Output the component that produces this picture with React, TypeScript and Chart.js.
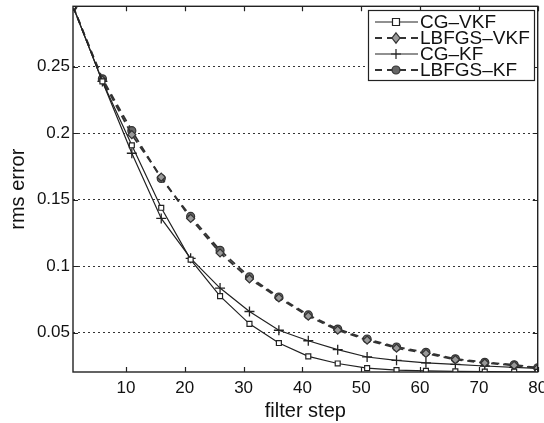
import React, { useEffect, useRef } from "react";
import { Chart, registerables } from "chart.js";
Chart.register(...registerables);

const steps = [1, 6, 11, 16, 21, 26, 31, 36, 41, 46, 51, 56, 61, 66, 71, 76, 80];
const cgVkf = [0.2955, 0.239, 0.191, 0.144, 0.105, 0.0776, 0.0567, 0.0423, 0.0323, 0.0269, 0.0234, 0.0219, 0.0214, 0.021, 0.0208, 0.0207, 0.0206];
const lbfgsVkf = [0.2955, 0.24, 0.199, 0.167, 0.136, 0.110, 0.0905, 0.0762, 0.0625, 0.052, 0.0445, 0.0385, 0.0345, 0.0298, 0.0273, 0.0255, 0.0234];
const cgKf = [0.2955, 0.239, 0.185, 0.136, 0.106, 0.0836, 0.066, 0.0519, 0.044, 0.0373, 0.0318, 0.0293, 0.0274, 0.0262, 0.025, 0.024, 0.0232];
const lbfgsKf = [0.2955, 0.241, 0.202, 0.166, 0.1375, 0.112, 0.092, 0.0769, 0.0634, 0.0528, 0.0453, 0.0393, 0.0353, 0.0304, 0.0278, 0.0259, 0.0237];
const xTicks = [10, 20, 30, 40, 50, 60, 70, 80];
const yTicks = [0.05, 0.1, 0.15, 0.2, 0.25];
const yTickLabels = ["0.05", "0.1", "0.15", "0.2", "0.25"];
const seriesLabels = ["CG\u2013VKF", "LBFGS\u2013VKF", "CG\u2013KF", "LBFGS\u2013KF"];

const FONT = "'Liberation Sans', Arial, sans-serif";

function drawMarker(ctx: any, style: string, x: number, y: number, r: number) {
  ctx.beginPath();
  if (style === "rect") {
    ctx.rect(x - r, y - r, 2 * r, 2 * r);
    ctx.fill(); ctx.stroke();
  } else if (style === "rectRot") {
    ctx.moveTo(x, y - r * 1.3); ctx.lineTo(x + r, y); ctx.lineTo(x, y + r * 1.3); ctx.lineTo(x - r, y); ctx.closePath();
    ctx.fill(); ctx.stroke();
  } else if (style === "cross") {
    ctx.moveTo(x - r, y); ctx.lineTo(x + r, y); ctx.moveTo(x, y - r); ctx.lineTo(x, y + r);
    ctx.stroke();
  } else {
    ctx.arc(x, y, r, 0, Math.PI * 2);
    ctx.fill(); ctx.stroke();
  }
}

const framePlugin = {
  id: "frame",
  afterDatasetsDraw(chart: any) {
    const { ctx, chartArea: a, scales } = chart;
    ctx.save();
    ctx.strokeStyle = "#222";
    ctx.lineWidth = 1.4;
    ctx.strokeRect(a.left, a.top, a.right - a.left, a.bottom - a.top);
    ctx.lineWidth = 1.2;
    const tl = 5;
    xTicks.forEach((v) => {
      const x = Math.round(scales.x.getPixelForValue(v)) + 0.5;
      ctx.beginPath();
      ctx.moveTo(x, a.bottom); ctx.lineTo(x, a.bottom - tl);
      ctx.moveTo(x, a.top); ctx.lineTo(x, a.top + tl);
      ctx.stroke();
    });
    yTicks.forEach((v) => {
      const y = Math.round(scales.y.getPixelForValue(v)) + 0.5;
      ctx.beginPath();
      ctx.moveTo(a.left, y); ctx.lineTo(a.left + tl, y);
      ctx.moveTo(a.right, y); ctx.lineTo(a.right - tl, y);
      ctx.stroke();
    });
    // legend
    const lx = 368, ly = 10, lw = 166, lh = 70;
    ctx.fillStyle = "#fff";
    ctx.fillRect(lx, ly, lw, lh);
    ctx.strokeStyle = "#222";
    ctx.lineWidth = 1.2;
    ctx.strokeRect(lx + 0.5, ly + 0.5, lw, lh);
    ctx.font = `19px ${FONT}`;
    ctx.textBaseline = "middle";
    chart.data.datasets.forEach((ds: any, i: number) => {
      const cy = ly + 12 + i * 16;
      ctx.save();
      ctx.strokeStyle = ds.borderColor;
      ctx.lineWidth = ds.borderWidth;
      ctx.setLineDash(ds.borderDash || []);
      ctx.beginPath();
      ctx.moveTo(lx + 7, cy); ctx.lineTo(lx + 50, cy);
      ctx.stroke();
      ctx.setLineDash([]);
      ctx.lineWidth = 1.2;
      ctx.strokeStyle = ds.pointBorderColor;
      ctx.fillStyle = ds.pointBackgroundColor;
      drawMarker(ctx, ds.pointStyle, lx + 28, cy, ds.pointRadius);
      ctx.restore();
      ctx.fillStyle = "#111";
      ctx.fillText(ds.label, lx + 52, cy + 1);
    });
    ctx.restore();
  },
};

export default function App() {
  const ref = useRef<HTMLCanvasElement | null>(null);
  useEffect(() => {
    document.body.style.margin = "0";
    const mk = (vals: number[]) => steps.map((s, i) => ({ x: s, y: vals[i] }));
    const chart = new Chart(ref.current as HTMLCanvasElement, {
      type: "line",
      data: {
        datasets: [
          { label: seriesLabels[0], data: mk(cgVkf), borderColor: "#222", borderWidth: 1.2, pointStyle: "rect", pointRadius: 3.5, pointBorderColor: "#222", pointBackgroundColor: "#fff", pointBorderWidth: 1.2 },
          { label: seriesLabels[1], data: mk(lbfgsVkf), borderColor: "#333", borderWidth: 1.8, borderDash: [7, 5], pointStyle: "rectRot", pointRadius: 4, pointBorderColor: "#333", pointBackgroundColor: "#999", pointBorderWidth: 1.2 },
          { label: seriesLabels[2], data: mk(cgKf), borderColor: "#222", borderWidth: 1.2, pointStyle: "cross", pointRadius: 5, pointBorderColor: "#222", pointBackgroundColor: "#222", pointBorderWidth: 1.3 },
          { label: seriesLabels[3], data: mk(lbfgsKf), borderColor: "#333", borderWidth: 1.8, borderDash: [7, 5], pointStyle: "circle", pointRadius: 4, pointBorderColor: "#333", pointBackgroundColor: "#666", pointBorderWidth: 1.2 },
        ] as any,
      },
      options: {
        animation: false,
        responsive: false,
        layout: { padding: { left: 0, right: 4, top: 4, bottom: 0 } },
        plugins: { legend: { display: false }, tooltip: { enabled: false } },
        elements: { line: { tension: 0 } },
        scales: {
          x: {
            type: "linear",
            min: 1,
            max: 80,
            afterBuildTicks: (s: any) => { s.ticks = xTicks.map((v) => ({ value: v })); },
            afterFit: (s: any) => { s.height = 51; s.paddingLeft = 0; s.paddingRight = 0; },
            grid: { display: false, drawTicks: false },
            border: { display: false },
            ticks: { color: "#111", font: { family: FONT, size: 17 }, padding: 6, maxRotation: 0 },
            title: { display: true, text: "filter step", color: "#111", font: { family: FONT, size: 20 }, padding: { top: -3, bottom: 0 } },
          },
          y: {
            type: "linear",
            min: 0.0205,
            max: 0.2955,
            afterBuildTicks: (s: any) => { s.ticks = yTicks.map((v) => ({ value: v })); },
            afterFit: (s: any) => { s.width = 73; s.paddingTop = 0; s.paddingBottom = 0; },
            grid: { drawTicks: false, color: "#333", lineWidth: 1 },
            border: { display: false, dash: [2, 3] },
            ticks: {
              color: "#111",
              font: { family: FONT, size: 17 },
              padding: 3,
              callback: (v: any) => { const i = yTicks.indexOf(Number(v)); return i >= 0 ? yTickLabels[i] : ""; },
            },
            title: { display: true, text: "rms error", color: "#111", font: { family: FONT, size: 20 }, padding: { top: 6, bottom: 0 } },
          },
        },
      } as any,
      plugins: [framePlugin],
    });
    return () => chart.destroy();
  }, []);
  return <canvas ref={ref} width={544} height={423} style={{ display: "block" }} />;
}
